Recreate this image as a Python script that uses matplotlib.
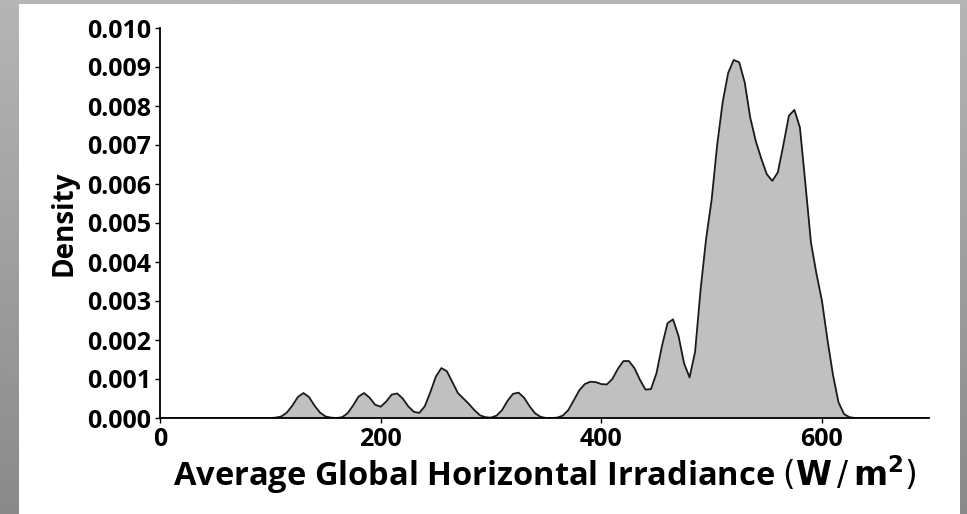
import numpy as np
import matplotlib.pyplot as plt
from matplotlib.patches import Rectangle

# irradiance grid (W/m2) and the density read along it
ghi = [0, 100, 105, 110, 115, 120, 125, 130, 135, 140, 145, 150, 155, 160,
       165, 170, 175, 180, 185, 190, 195, 200, 205, 210, 215, 220, 225, 230,
       235, 240, 245, 250, 255, 260, 265, 270, 275, 280, 285, 290, 295, 300,
       305, 310, 315, 320, 325, 330, 335, 340, 345, 350, 355, 360, 365, 370,
       375, 380, 385, 390, 395, 400, 405, 410, 415, 420, 425, 430, 435, 440,
       445, 450, 455, 460, 465, 470, 475, 480, 485, 490, 495, 500, 505, 510,
       515, 520, 525, 530, 535, 540, 545, 550, 555, 560, 565, 570, 575, 580,
       585, 590, 595, 600, 605, 610, 615, 620, 625, 630, 697]
density = [0.0, 0.0, 0.00001, 0.00004, 0.00014, 0.00032, 0.00054, 0.00064,
           0.00054, 0.00032, 0.00014, 0.00004, 0.00001, 0.0,
           0.00002, 0.00012, 0.00032, 0.00055, 0.00064, 0.00052, 0.00034,
           0.00029, 0.00042, 0.00060, 0.00063, 0.00050, 0.00030, 0.00016,
           0.00013, 0.00030, 0.00066, 0.00106, 0.00128, 0.00120, 0.00092,
           0.00064, 0.00050, 0.00036, 0.00020, 0.00007, 0.00002, 0.00001,
           0.00006, 0.00020, 0.00044, 0.00062, 0.00065, 0.00052, 0.00030,
           0.00012, 0.00003, 0.0, 0.0, 0.00001, 0.00006, 0.00020,
           0.00045, 0.00071, 0.00087, 0.00093, 0.00092, 0.00087, 0.00086,
           0.00100, 0.00126, 0.00146, 0.00146, 0.00128, 0.00098, 0.00073,
           0.00074, 0.00115, 0.00185, 0.00243, 0.00253, 0.00210, 0.00140,
           0.00104, 0.00170, 0.00330, 0.00460, 0.00560, 0.00700, 0.00810,
           0.00885, 0.00918, 0.00912, 0.00860, 0.00770, 0.00710, 0.00665,
           0.00625, 0.00608, 0.00630, 0.00700, 0.00775, 0.00790, 0.00745,
           0.00600, 0.00450, 0.00370, 0.00300, 0.00200, 0.00110, 0.00040,
           0.00010, 0.00002, 0.0, 0.0]

x_ticks = [0, 200, 400, 600]
y_ticks = [0.000, 0.001, 0.002, 0.003, 0.004, 0.005, 0.006, 0.007, 0.008,
           0.009, 0.010]

plt.rcParams['font.family'] = ['Open Sans', 'DejaVu Sans']

W, H = 967, 514
fig = plt.figure(figsize=(W / 100, H / 100), dpi=100)

# grey frame with a soft vertical gradient, white page on top
bg = fig.add_axes([0, 0, 1, 1], zorder=0)
grad = np.linspace(0.71, 0.54, 256).reshape(-1, 1)
bg.imshow(grad, cmap='gray', vmin=0, vmax=1, aspect='auto',
          extent=[0, W, 0, H])
bg.add_patch(Rectangle((19, 0), 941, H - 4, color='white', lw=0))
bg.set_xlim(0, W)
bg.set_ylim(0, H)
bg.axis('off')

ax = fig.add_axes([160 / W, (H - 418) / H, (929 - 160) / W, (418 - 28) / H],
                  zorder=1)
ax.patch.set_alpha(0)

ax.fill_between(ghi, density, color='#c0c0c0', lw=0)
ax.plot(ghi, density, color='#1a1a1a', lw=1.3, solid_joinstyle='round')

ax.set_xlim(0, 697)
ax.set_ylim(0, 0.010)
ax.set_xticks(x_ticks)
ax.set_yticks(y_ticks)
ax.set_yticklabels([f'{v:.3f}' for v in y_ticks])
ax.tick_params(labelsize=18, length=3.5, width=1, pad=3)
for lab in ax.get_xticklabels() + ax.get_yticklabels():
    lab.set_fontweight('bold')

for s in ['top', 'right']:
    ax.spines[s].set_visible(False)
for s in ['left', 'bottom']:
    ax.spines[s].set_linewidth(1.3)

ax.set_ylabel('Density', fontsize=20, fontweight='bold', labelpad=6)
ax.set_xlabel(r'Average Global Horizontal Irradiance '
              r'$\left(\mathbf{W}\,/\,\mathbf{m}^{\mathbf{2}}\right)$',
              fontsize=23.5, fontweight='bold', labelpad=1)

fig.savefig('out.png', dpi=100)
